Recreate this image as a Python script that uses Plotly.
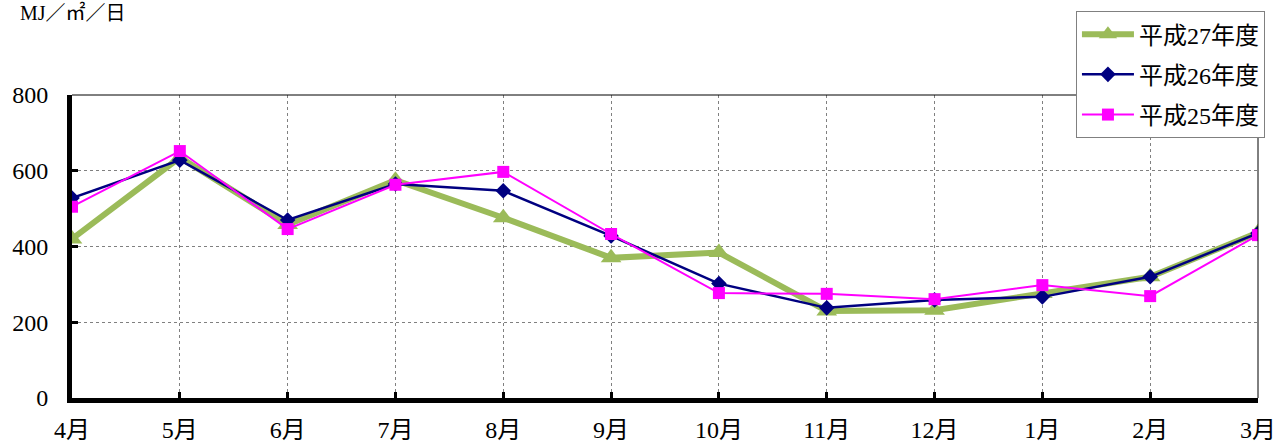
import plotly.graph_objects as go

months = ["4月", "5月", "6月", "7月", "8月", "9月", "10月", "11月", "12月", "1月", "2月", "3月"]
h27 = [420, 635, 458, 575, 476, 370, 384, 230, 232, 276, 320, 437]
h26 = [528, 628, 470, 565, 547, 428, 302, 238, 259, 267, 320, 435]
h25 = [505, 652, 446, 563, 597, 433, 277, 275, 261, 298, 269, 430]
yticks = [0, 200, 400, 600, 800]

FONT = "'Liberation Serif', 'DejaVu Serif', 'Noto Sans CJK JP', serif"

fig = go.Figure()
fig.add_trace(go.Scatter(x=months, y=h27, name="平成27年度", mode="lines+markers",
                         line=dict(color="#9BBB59", width=6),
                         marker=dict(symbol="triangle-up", size=18, color="#9BBB59")))
fig.add_trace(go.Scatter(x=months, y=h26, name="平成26年度", mode="lines+markers",
                         line=dict(color="#000080", width=2.5),
                         marker=dict(symbol="diamond", size=12, color="#000080")))
fig.add_trace(go.Scatter(x=months, y=h25, name="平成25年度", mode="lines+markers",
                         line=dict(color="#FF00FF", width=2),
                         marker=dict(symbol="square", size=12, color="#FF00FF")))

fig.update_layout(
    width=1274, height=442,
    margin=dict(l=72, r=16, t=95, b=44, autoexpand=False),
    plot_bgcolor="white", paper_bgcolor="white",
    font=dict(family=FONT, size=24, color="black"),
    showlegend=True,
    hovermode=False,
    legend=dict(x=0.8465, y=1.277, xanchor="left", yanchor="top",
                bgcolor="white", bordercolor="#808080", borderwidth=1,
                font=dict(family=FONT, size=24), itemwidth=52,
                tracegroupgap=6),
    xaxis=dict(range=[0, 11], showline=True, linewidth=5, linecolor="black",
               showgrid=True, gridcolor="#808080", griddash="dot", gridwidth=1,
               ticks="inside", ticklen=6, tickwidth=3, tickcolor="black",
               ticklabelstandoff=6, zeroline=False, automargin=False),
    yaxis=dict(range=[0, 800], tickvals=yticks, showline=True, linewidth=5, linecolor="black",
               showgrid=True, gridcolor="#808080", griddash="dot", gridwidth=1,
               ticks="inside", ticklen=6, tickwidth=3, tickcolor="black",
               ticklabelstandoff=14, zeroline=False, automargin=False),
    annotations=[dict(text="MJ／㎡／日", xref="paper", yref="paper", x=-0.0455, y=1.272,
                      xanchor="left", yanchor="middle", showarrow=False,
                      font=dict(family=FONT, size=20))],
    shapes=[dict(type="line", xref="paper", yref="paper", x0=0, x1=1, y0=1, y1=1,
                 line=dict(color="black", width=1)),
            dict(type="line", xref="paper", yref="paper", x0=1, x1=1, y0=0, y1=1,
                 line=dict(color="black", width=1))],
)
for i in range(3):
    fig.data[i].legendgroup = str(i)

fig.write_html("out.html", config={"displayModeBar": False},
               post_script="document.body.style.margin='0';document.body.style.overflow='hidden';")
